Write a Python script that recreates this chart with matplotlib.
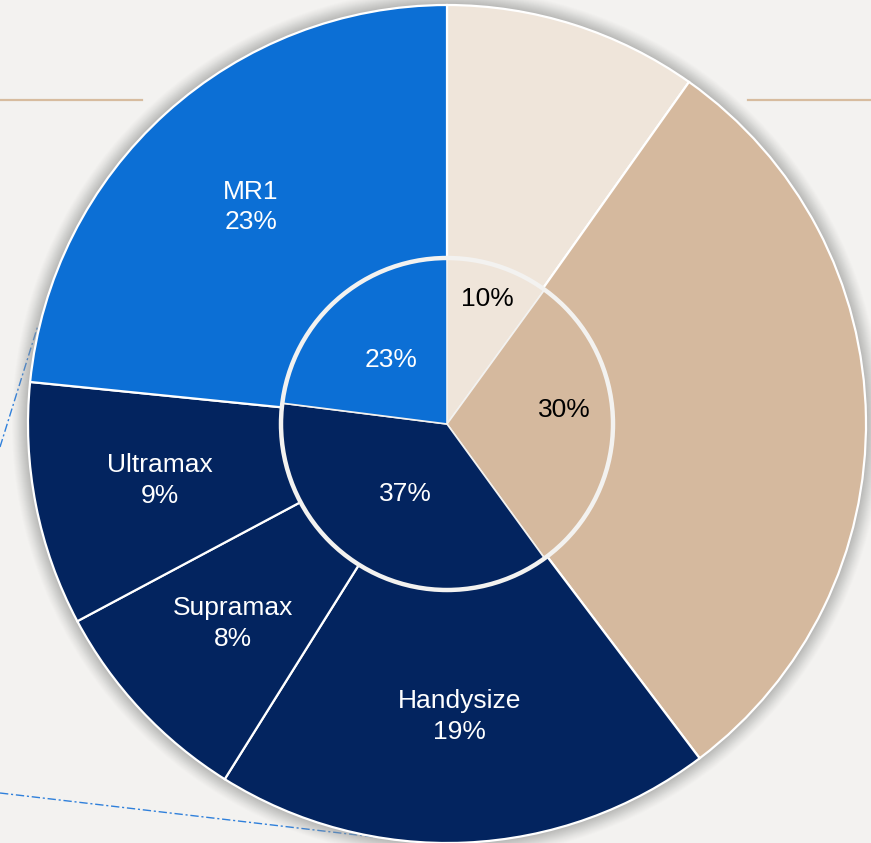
"""
plot.py
Fleet split donut: segment totals inside, vessel classes in the outer ring.
"""

import numpy as np
import matplotlib.pyplot as plt

# outer ring (clockwise from 12 o'clock)
outer_names = ["", "", "Handysize", "Supramax", "Ultramax", "MR1"]
outer_values = [9.8, 29.9, 19.2, 8.3, 9.4, 23.4]
outer_labels = ["", "", "Handysize\n19%", "Supramax\n8%", "Ultramax\n9%", "MR1\n23%"]

# inner pie
inner_values = [10, 30, 37, 23]
inner_labels = ["10%", "30%", "37%", "23%"]

BG = "#F3F2F0"
BEIGE = "#EFE5DA"
TAN = "#D5B99E"
NAVY = "#03245F"
BLUE = "#0C6FD5"

outer_colors = [BEIGE, TAN, NAVY, NAVY, NAVY, BLUE]
inner_colors = [BEIGE, TAN, NAVY, BLUE]
inner_text = ["black", "black", "white", "white"]
inner_dist = [0.79, 0.71, 0.49, 0.51]
inner_turn = [0, 7, 0, 0]  # small hand nudges, degrees

W, H = 871, 843
CX, CY = 447, H - 424
R_OUT, R_IN = 419, 166

plt.rcParams.update({
    "font.family": ["Liberation Sans", "DejaVu Sans"],
    "font.size": 19,
})

fig = plt.figure(figsize=(W / 100, H / 100), dpi=100, facecolor=BG)
ax = fig.add_axes([0, 0, 1, 1])
ax.set_facecolor(BG)

# decorative rules
ax.plot([0, 142], [H - 100, H - 100], color="#D7BC9F", lw=1.6, zorder=1)
ax.plot([748, W], [H - 100, H - 100], color="#D7BC9F", lw=1.6, zorder=1)
ax.plot([0, 520], [H - 793, H - 793 - 520 * 0.1175], color="#2F80DB",
        lw=1.0, ls=(0, (6, 2, 1.5, 2)), zorder=1)
ax.plot([0, 38], [H - 447, H - 447 + 38 * 3.2], color="#2F80DB",
        lw=1.0, ls=(0, (6, 2, 1.5, 2)), zorder=1)

# soft halo round the pie
for i, d in enumerate(np.linspace(16, 1, 16)):
    ax.add_patch(plt.Circle((CX, CY), R_OUT + d, color="#9a9a9a",
                            alpha=0.025 + 0.004 * i, lw=0, zorder=2))

wedges, texts = ax.pie(outer_values, labels=outer_labels, colors=outer_colors,
                       radius=R_OUT, center=(CX, CY), startangle=90,
                       counterclock=False, labeldistance=None, frame=True,
                       wedgeprops=dict(edgecolor="white", linewidth=1.6))
for w in wedges:
    w.set_zorder(3)

# outer labels in the middle of the ring
mid_r = (R_OUT + R_IN) / 2
for w, lab in zip(wedges, outer_labels):
    if not lab:
        continue
    ang = np.deg2rad((w.theta1 + w.theta2) / 2)
    ax.text(CX + mid_r * np.cos(ang), CY + mid_r * np.sin(ang), lab,
            ha="center", va="center", color="white", zorder=6,
            linespacing=1.35)

iw, _ = ax.pie(inner_values, colors=inner_colors, radius=R_IN,
               center=(CX, CY), startangle=90, counterclock=False,
               frame=True, wedgeprops=dict(edgecolor="#F3F2F0", linewidth=1.2))
for w in iw:
    w.set_zorder(4)
ax.add_patch(plt.Circle((CX, CY), R_IN, fill=False, ec="#F3F2F0",
                        lw=3.2, zorder=5))

for w, lab, c, f, t in zip(iw, inner_labels, inner_text, inner_dist, inner_turn):
    ang = np.deg2rad((w.theta1 + w.theta2) / 2 + t)
    ax.text(CX + f * R_IN * np.cos(ang), CY + f * R_IN * np.sin(ang), lab,
            ha="center", va="center", color=c, zorder=6)

ax.set_xlim(0, W)
ax.set_ylim(0, H)
ax.set_aspect("equal")
ax.axis("off")

fig.savefig("out.png", dpi=100, facecolor=BG)
